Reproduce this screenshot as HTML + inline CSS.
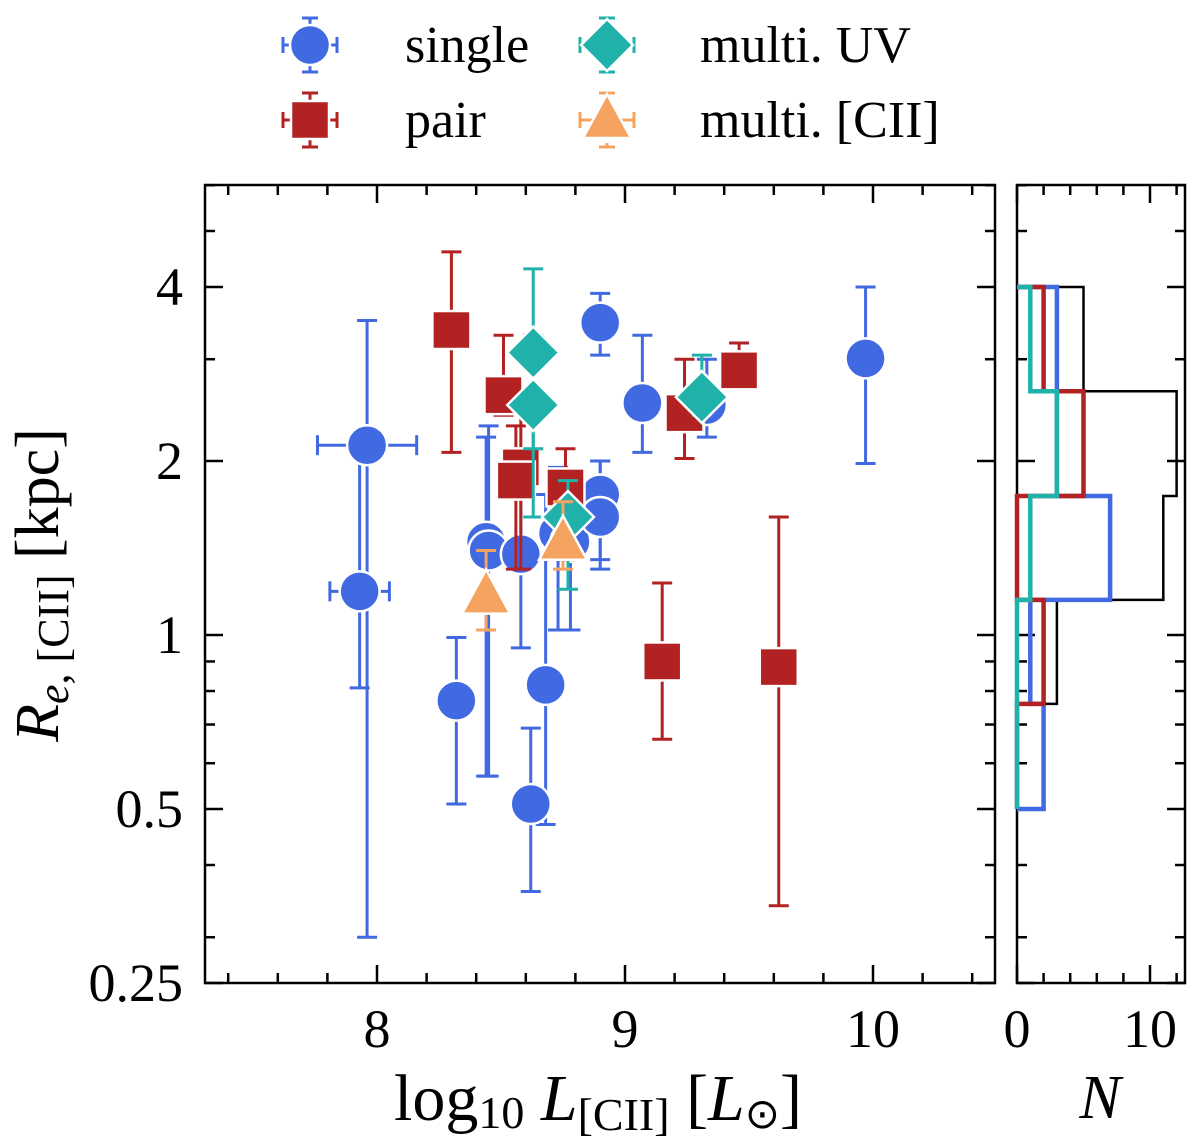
<!DOCTYPE html>
<html><head><meta charset="utf-8"><style>
body{margin:0;background:#fff}
svg text{font-family:"Liberation Serif",serif;fill:#000}
</style></head><body>
<svg id="c" width="1200" height="1136" xmlns="http://www.w3.org/2000/svg"></svg>
<script>
// ---- data ----
const singleX=[7.96,7.93,8.32,8.44,8.45,8.62,8.68,8.90,9.07,9.33,9.97,8.58,8.73,8.78,8.90,8.90];
const singleR=[2.13,1.19,0.77,1.45,1.40,0.51,0.82,3.47,2.52,2.5,3.01,1.38,1.5,1.45,1.75,1.6];
const singleLo=[0.30,0.81,0.51,0.57,0.57,0.36,0.47,3.05,2.07,2.2,1.98,0.95,1.02,1.02,1.35,1.3];
const singleHi=[3.5,2.1,0.99,2.2,2.3,0.69,1.75,3.9,3.3,3.0,4.0,1.75,1.95,1.9,2.0,2.0];
const singleXe=[0.2,0.12,0,0,0,0,0,0,0,0,0,0,0,0,0,0];
const pairX=[8.30,8.51,8.58,8.56,8.76,9.15,9.24,9.46,9.62];
const pairR=[3.37,2.6,1.95,1.85,1.8,0.9,2.42,2.87,0.88];
const pairLo=[2.07,2.4,1.3,1.3,1.35,0.66,2.02,2.7,0.34];
const pairHi=[4.6,3.3,2.5,2.3,2.1,1.23,3.0,3.2,1.6];
const pairXe=[0.04,0.03,0.03,0.03,0,0,0,0,0];
const uvX=[8.63,8.63,8.77,9.31];
const uvR=[3.08,2.5,1.6,2.58];
const uvLo=[2.1,1.6,1.2,2.4];
const uvHi=[4.3,3.3,1.85,3.05];
const ciiX=[8.44,8.75];
const ciiR=[1.17,1.45];
const ciiLo=[1.02,1.3];
const ciiHi=[1.4,1.7];
const binEdges=[4,2.64,1.74,1.15,0.76,0.5];
const histAll=[5,12,11,3,2];
const histSingle=[3,3,7,1,2];
const histPair=[2,5,0,2,0];
const histUV=[1,3,1,0,0];
const xTicks=[8,9,10];
const yTicks=[4,2,1,0.5,0.25];
const yTickLabels=["4","2","1","0.5","0.25"];
const yMinor=[0.3,0.4,0.6,0.7,0.8,0.9,3,5,6];
const nTicks=[0,10];

const svg=document.getElementById('c');
const NS="http://www.w3.org/2000/svg";
function el(t,a,p){const e=document.createElementNS(NS,t);for(const k in a)e.setAttribute(k,a[k]);(p||svg).appendChild(e);return e;}
const L=205,R=995,T=185,B=983;
const X=v=>377+(v-8)*248;
const Y=r=>287-174*Math.log2(r/4);
const HL=1017,HR=1185;
const HX=n=>HL+n*13.3;
const cols={s:"#4169e1",p:"#b22222",u:"#20b2aa",c:"#f4a460"};

let f=el('rect',{x:L,y:T,width:R-L,height:B-T,fill:'none',stroke:'#000','stroke-width':2.5});

let f2=el('rect',{x:HL,y:T,width:HR-HL,height:B-T,fill:'none',stroke:'#000','stroke-width':2.5});


for(let v=7.4;v<10.5;v+=0.2){const x=X(v);const maj=xTicks.some(t=>Math.abs(t-v)<1e-6);const l=maj?18:10;
 el('line',{x1:x,y1:B,x2:x,y2:B-l,stroke:'#000','stroke-width':2.5});el('line',{x1:x,y1:T,x2:x,y2:T+l,stroke:'#000','stroke-width':2.5});}
xTicks.forEach(v=>{const t=el('text',{x:X(v),y:1047,'font-size':54,'text-anchor':'middle'});t.textContent=v;
 });
yTicks.forEach((v,i)=>{const y=Y(v);
 [[L,L+18],[R,R-18],[HL,HL+18],[HR,HR-18]].forEach(p=>el('line',{x1:p[0],y1:y,x2:p[1],y2:y,stroke:'#000','stroke-width':2.5}));
 const t=el('text',{x:183,y:y+18,'font-size':54,'text-anchor':'end'});t.textContent=yTickLabels[i];
 });
yMinor.forEach(v=>{const y=Y(v);
 [[L,L+10],[R,R-10],[HL,HL+10],[HR,HR-10]].forEach(p=>el('line',{x1:p[0],y1:y,x2:p[1],y2:y,stroke:'#000','stroke-width':2.5}));});
for(let n=0;n<=12;n+=2){const x=HX(n);const maj=n%10==0;const l=maj?18:10;
 el('line',{x1:x,y1:B,x2:x,y2:B-l,stroke:'#000','stroke-width':2.5});el('line',{x1:x,y1:T,x2:x,y2:T+l,stroke:'#000','stroke-width':2.5});}
nTicks.forEach(n=>{const t=el('text',{x:HX(n),y:1047,'font-size':54,'text-anchor':'middle'});t.textContent=n;
 });

let xt=el('text',{x:598,y:1120,'font-size':66,'text-anchor':'middle'});
xt.innerHTML='log<tspan font-size="46" dy="8">10</tspan><tspan dy="-8" font-style="italic"> L</tspan><tspan font-size="46" dy="10">[CII]</tspan><tspan dy="-10"> [</tspan><tspan font-style="italic">L</tspan><tspan font-size="42" dy="8">⊙</tspan><tspan dy="-8">]</tspan>';

let nt=el('text',{x:1100,y:1118,'font-size':62,'text-anchor':'middle','font-style':'italic'});nt.textContent='N';

let yt=el('text',{x:0,y:0,'font-size':62,'text-anchor':'middle',transform:'translate(58,585) rotate(-90)'});
yt.innerHTML='<tspan font-style="italic">R</tspan><tspan font-size="44" dy="10"><tspan font-style="italic">e</tspan>, [CII]</tspan><tspan dy="-10"> [kpc]</tspan>';


function hist(counts,col,w,name){let d='M'+HL+','+Y(binEdges[0]);
 counts.forEach((c,i)=>{d+=' L'+HX(c)+','+Y(binEdges[i])+' L'+HX(c)+','+Y(binEdges[i+1]);});
 d+=' L'+HL+','+Y(binEdges[binEdges.length-1]);
 const p=el('path',{d:d,fill:'none',stroke:col,'stroke-width':w});
 }
hist(histAll,'#000',2.5,'hist-all');
hist(histSingle,cols.s,4.5,'hist-single');
hist(histPair,cols.p,4.5,'hist-pair');
hist(histUV,cols.u,4.5,'hist-multi-uv');

function errbar(g,x,y,lo,hi,xe,col){
 el('line',{x1:X(x),y1:Y(lo),x2:X(x),y2:Y(hi),stroke:col,'stroke-width':3},g);
 [lo,hi].forEach(v=>el('line',{x1:X(x)-10,y1:Y(v),x2:X(x)+10,y2:Y(v),stroke:col,'stroke-width':3},g));
 if(xe>0){el('line',{x1:X(x-xe),y1:Y(y),x2:X(x+xe),y2:Y(y),stroke:col,'stroke-width':3},g);
  [x-xe,x+xe].forEach(v=>el('line',{x1:X(v),y1:Y(y)-10,x2:X(v),y2:Y(y)+10,stroke:col,'stroke-width':3},g));}
}
function marker(g,type,cx,cy,col){
 const a={fill:col,stroke:'#fff','stroke-width':2.5};
 if(type=='s'){a.cx=cx;a.cy=cy;a.r=20;return el('circle',a,g);}
 if(type=='p'){a.x=cx-19;a.y=cy-19;a.width=38;a.height=38;return el('rect',a,g);}
 if(type=='u'){a.points=`${cx},${cy-26} ${cx+26},${cy} ${cx},${cy+26} ${cx-26},${cy}`;return el('polygon',a,g);}
 a.points=`${cx},${cy-26} ${cx+24},${cy+18} ${cx-24},${cy+18}`;return el('polygon',a,g);
}
function series(xs,rs,lo,hi,xe,type,name){
 const g=el('g',{});
 xs.forEach((x,i)=>errbar(g,x,rs[i],lo[i],hi[i],xe?xe[i]:0,cols[type]));
 xs.forEach((x,i)=>{const m=marker(g,type,X(x),Y(rs[i]),cols[type]);
  });
}
series(singleX,singleR,singleLo,singleHi,singleXe,'s','single');
series(pairX,pairR,pairLo,pairHi,pairXe,'p','pair');
series(uvX,uvR,uvLo,uvHi,null,'u','multi-uv');
series(ciiX,ciiR,ciiLo,ciiHi,null,'c','multi-cii');

const leg=el('g',{});
[['s',310,45,'single',405],['p',310,120,'pair',405],['u',607,45,'multi. UV',700],['c',607,120,'multi. [CII]',700]].forEach(e=>{
 const g=el('g',{},leg);
 const c=cols[e[0]];
 el('line',{x1:e[1],y1:e[2]-27,x2:e[1],y2:e[2]+27,stroke:c,'stroke-width':3,'stroke-dasharray':e[0]=='s'||e[0]=='p'?'none':'6,4'},g);
 el('line',{x1:e[1]-27,y1:e[2],x2:e[1]+27,y2:e[2],stroke:c,'stroke-width':3},g);
 [-27,27].forEach(d=>{el('line',{x1:e[1]-8,y1:e[2]+d,x2:e[1]+8,y2:e[2]+d,stroke:c,'stroke-width':3},g);
  el('line',{x1:e[1]+d,y1:e[2]-8,x2:e[1]+d,y2:e[2]+8,stroke:c,'stroke-width':3},g);});
 marker(g,e[0],e[1],e[2],c);
 const t=el('text',{x:e[4],y:e[2]+17,'font-size':52},g);t.textContent=e[3];
});
</script>
</body></html>
